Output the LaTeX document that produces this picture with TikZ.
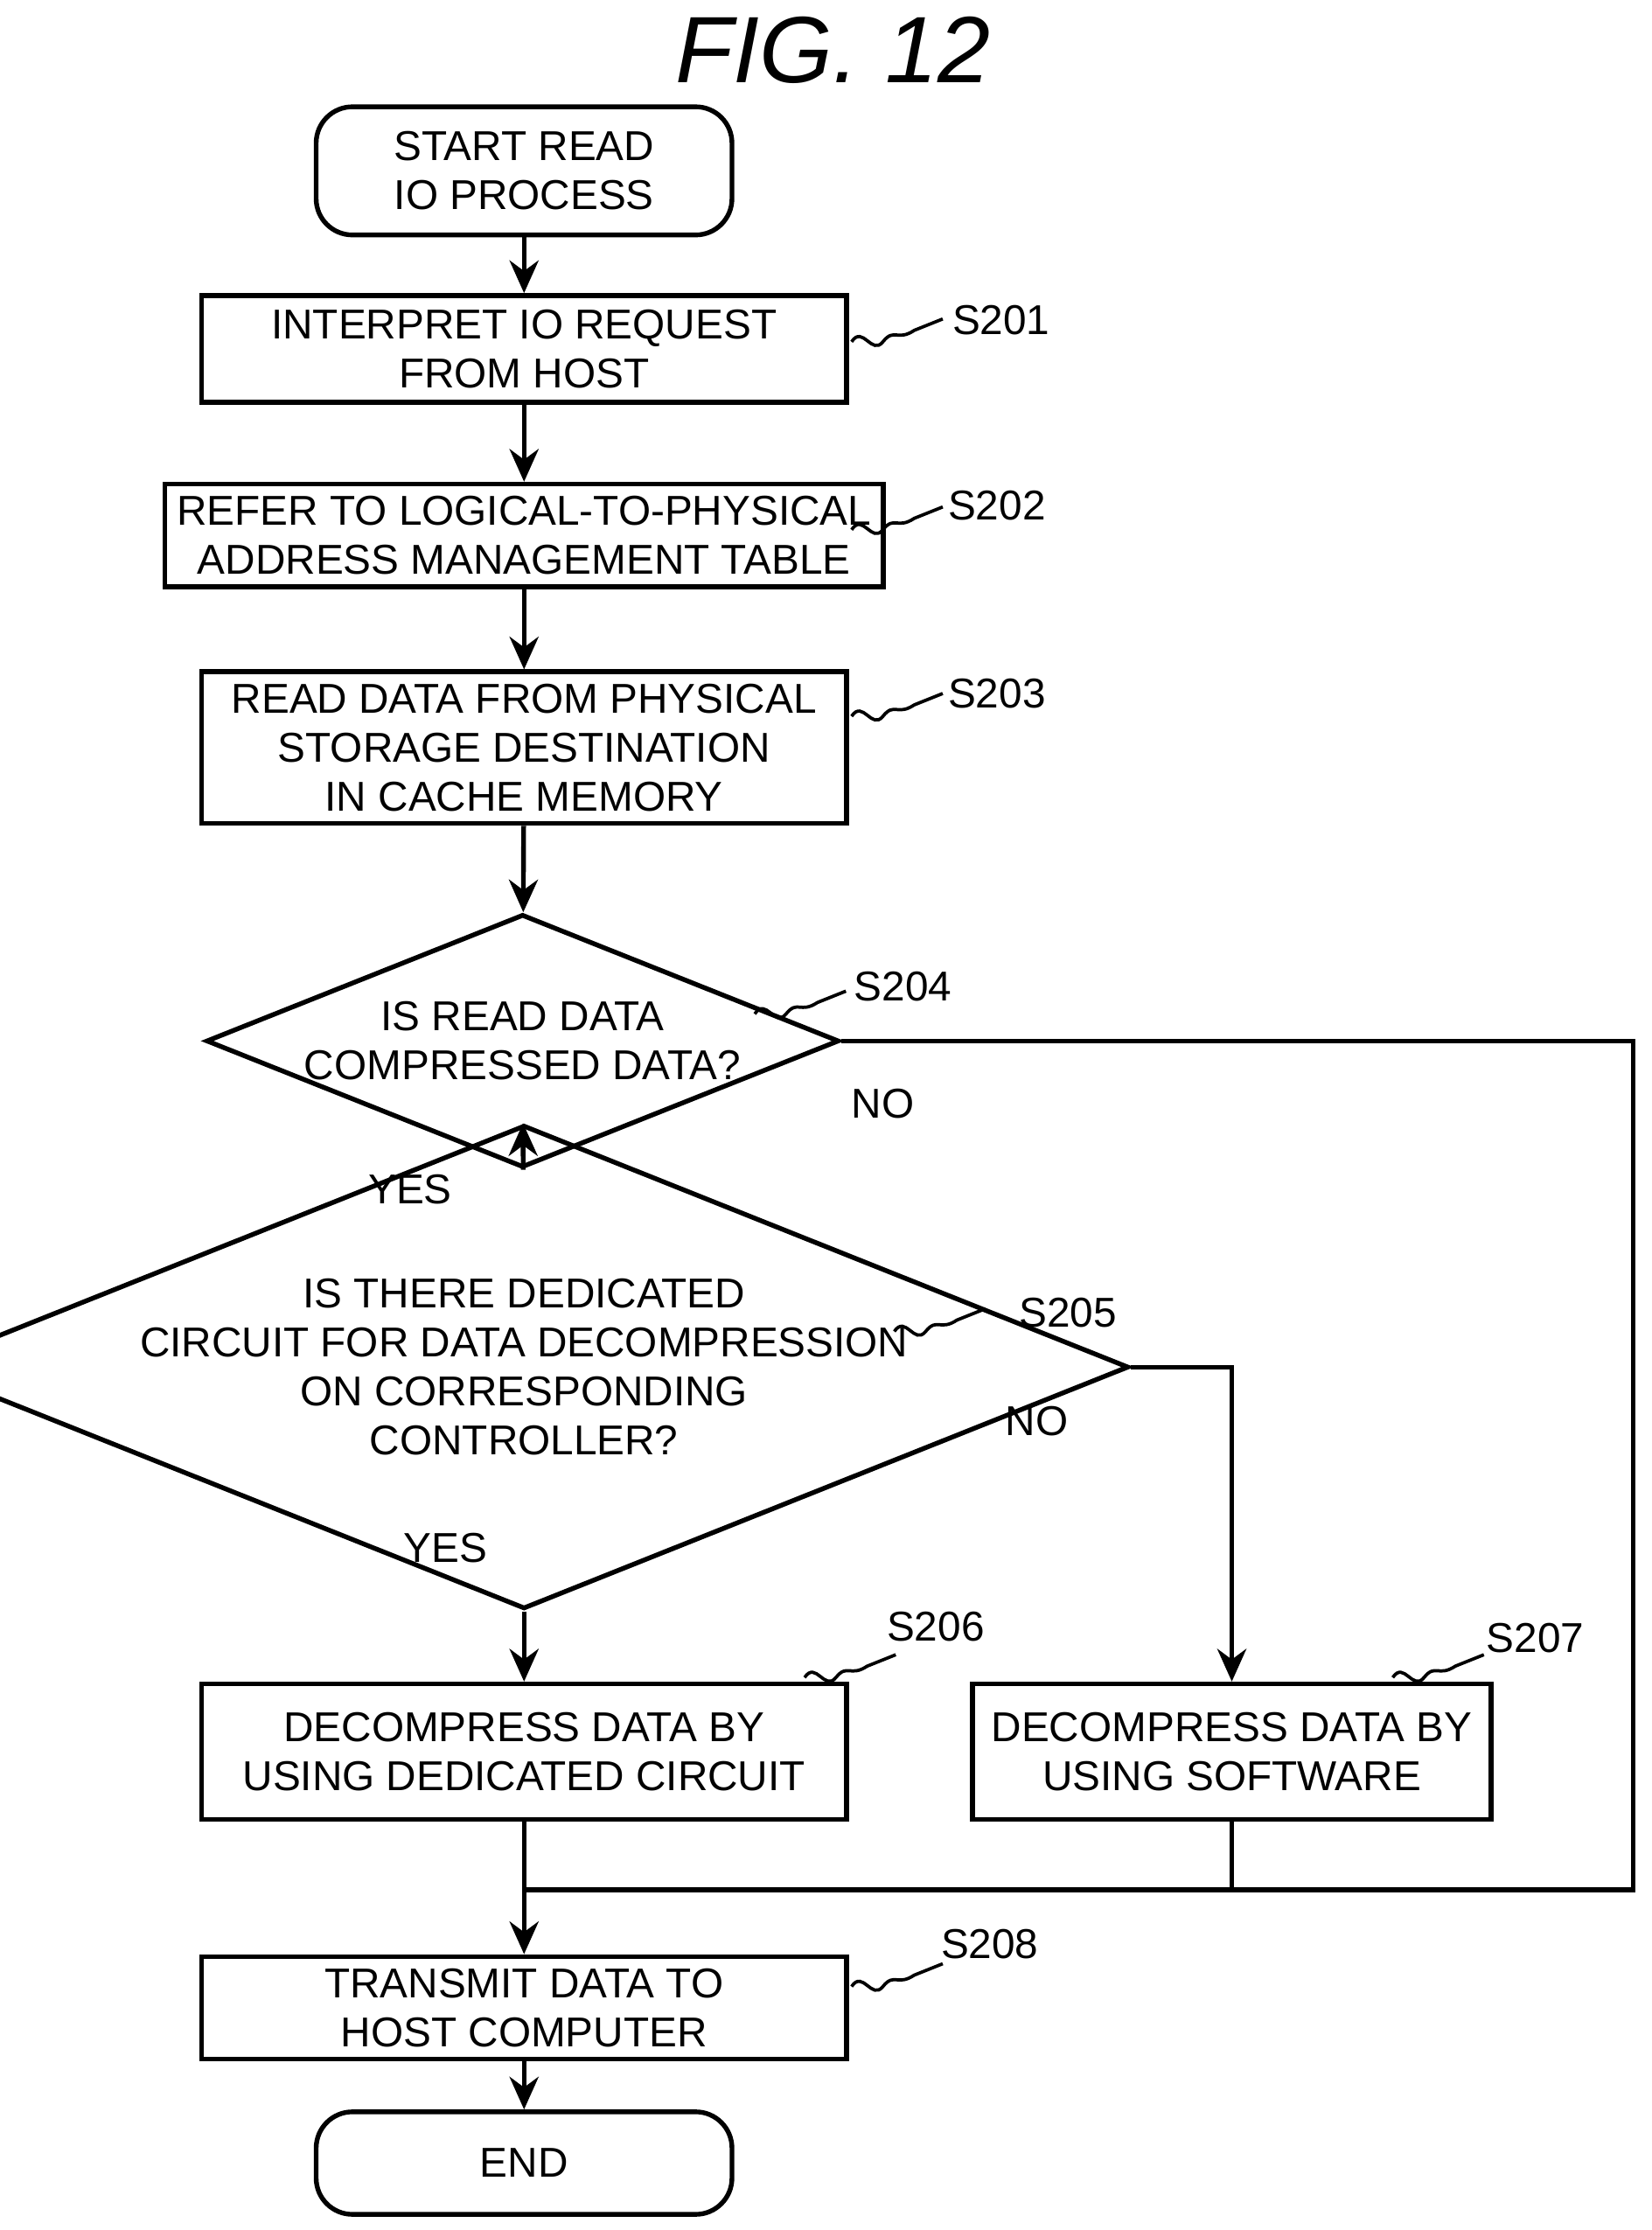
\documentclass[tikz,border=0pt]{standalone}
\usepackage{fontspec}
\setmainfont{Liberation Sans}
\usetikzlibrary{shapes.geometric,arrows.meta}
\newcommand{\unitpx}{0.01379cm}
\tikzset{
  box/.style = {draw, line width=1.3pt, minimum width=453*\unitpx, align=center, font=\fontsize{11.5}{13.5}\selectfont},
  term/.style = {box, rounded corners=10pt, minimum width=292*\unitpx},
  dec/.style = {draw, diamond, aspect=2.5, line width=1.3pt, align=center, inner sep=0pt, font=\fontsize{11.5}{13.5}\selectfont},
  flow/.style = {line width=1.3pt, -{Stealth[length=9pt,width=8pt]}},
  wire/.style = {line width=1.3pt},
  lbl/.style = {font=\fontsize{11.5}{13.5}\selectfont},
  squig/.style = {line width=0.9pt}
}
% wavy leader from a step label to its box
\newcommand{\wave}[1]{\draw[squig] #1 .. controls +(8,-12) and +(-8,10) .. ++(22,0) .. controls +(8,-10) and +(-12,8) .. ++(22,-8) -- ++(20,-8);}
\begin{document}
\begin{tikzpicture}[x=\unitpx, y=-\unitpx]
\useasboundingbox (0,0) rectangle (1160,1566);
\node[font=\fontsize{26}{30}\selectfont\itshape] (title) at (585,35) {FIG. 12};

\node[term, minimum height=90*\unitpx] (start) at (368,120) {START READ\\IO PROCESS};
\node[box, minimum height=75*\unitpx] (s201) at (368,245) {INTERPRET IO REQUEST\\FROM HOST};
\node[box, minimum height=72*\unitpx] (s202) at (368,376) {REFER TO LOGICAL-TO-PHYSICAL\\ADDRESS MANAGEMENT TABLE};
\node[box, minimum height=106*\unitpx] (s203) at (368,525) {READ DATA FROM PHYSICAL\\STORAGE DESTINATION\\IN CACHE MEMORY};
\node[dec, minimum width=437*\unitpx, minimum height=172*\unitpx] (s204) at (367,731) {IS READ DATA\\COMPRESSED DATA?};
\node[dec, minimum width=693*\unitpx, minimum height=190*\unitpx] (s205) at (368,960) {IS THERE DEDICATED\\CIRCUIT FOR DATA DECOMPRESSION\\ON CORRESPONDING\\CONTROLLER?};
\node[box, minimum height=95*\unitpx] (s206) at (368,1230) {DECOMPRESS DATA BY\\USING DEDICATED CIRCUIT};
\node[box, minimum width=364*\unitpx, minimum height=95*\unitpx] (s207) at (865,1230) {DECOMPRESS DATA BY\\USING SOFTWARE};
\node[box, minimum height=65*\unitpx] (s208) at (368,1410) {TRANSMIT DATA TO\\HOST COMPUTER};
\node[term, minimum height=72*\unitpx] (end) at (368,1519) {END};

\coordinate (merge) at (368,1327);
\coordinate (rmerge) at (1147,1327);

\draw[flow] (start) -- (s201);
\draw[flow] (s201) -- (s202);
\draw[flow] (s202) -- (s203);
\draw[flow] (s203) -- (s204);
\draw[flow] (s204) -- (s205);
\draw[flow] (s205) -- (s206);
\draw[flow] (s205.east) -| (s207.north);
\draw[wire] (s204.east) -| (rmerge) -- (merge);
\draw[wire] (s207.south) |- (merge);
\draw[wire] (s206.south) -- (merge);
\draw[flow] (merge) -- (s208);
\draw[flow] (s208) -- (end);

\node[lbl] (no1) at (620,775) {NO};
\node[lbl] (yes1) at (288,835) {YES};
\node[lbl] (no2) at (728,998) {NO};
\node[lbl] (yes2) at (313,1087) {YES};

\node[lbl] (l201) at (703,225) {S201};
\node[lbl] (l202) at (700,355) {S202};
\node[lbl] (l203) at (700,487) {S203};
\node[lbl] (l204) at (634,693) {S204};
\node[lbl] (l205) at (750,922) {S205};
\node[lbl] (l206) at (657,1142) {S206};
\node[lbl] (l207) at (1078,1150) {S207};
\node[lbl] (l208) at (695,1365) {S208};

\wave{(598,240)}
\wave{(598,372)}
\wave{(598,503)}
\wave{(530,712)}
\wave{(628,935)}
\wave{(565,1178)}
\wave{(978,1178)}
\wave{(598,1395)}
\end{tikzpicture}
\end{document}
